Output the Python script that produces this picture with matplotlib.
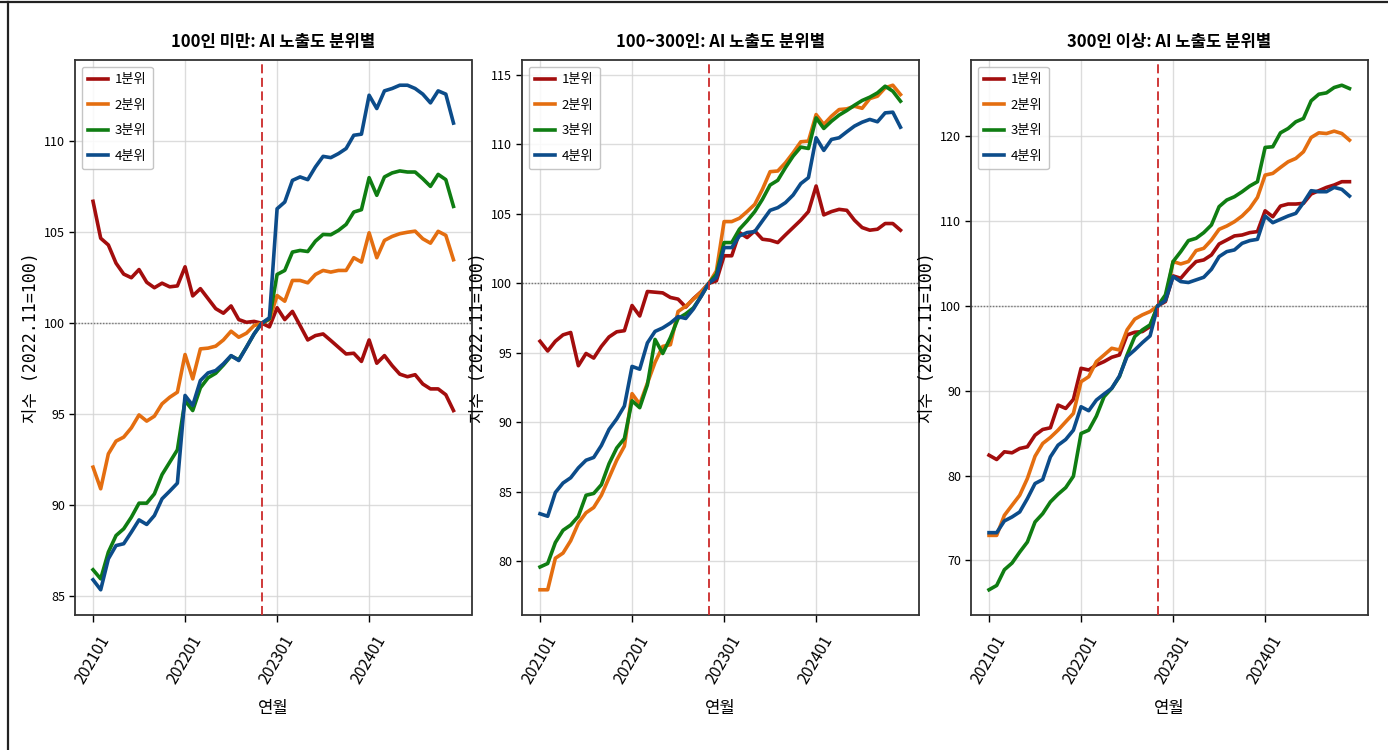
import numpy as np
import matplotlib
matplotlib.use("Agg")
import matplotlib.pyplot as plt
from matplotlib.lines import Line2D

plt.rcParams['font.family'] = ['Noto Sans CJK KR', 'DejaVu Sans']
plt.rcParams['axes.unicode_minus'] = False

# ---------------- data ----------------
months = [f"{y}{m:02d}" for y in (2021, 2022, 2023, 2024) for m in range(1, 13)]
tick_months = ["202101", "202201", "202301", "202401"]
base_month = "202211"

series_labels = ["1분위", "2분위", "3분위", "4분위"]
panel_titles = ["100인 미만: AI 노출도 분위별",
                "100~300인: AI 노출도 분위별",
                "300인 이상: AI 노출도 분위별"]

# 100인 미만
small_q1 = [106.7, 104.67, 104.3, 103.3, 102.7, 102.5, 102.95, 102.25, 101.95, 102.2, 102.0, 102.05,
            103.1, 101.5, 101.9, 101.35, 100.8, 100.55, 100.95, 100.2, 100.05, 100.1, 100.0, 99.8,
            100.85, 100.2, 100.65, 99.87, 99.08, 99.32, 99.41, 99.05, 98.68, 98.31, 98.35, 97.9,
            99.08, 97.8, 98.22, 97.67, 97.2, 97.06, 97.17, 96.66, 96.39, 96.39, 96.07, 95.2]
small_q2 = [92.09, 90.9, 92.82, 93.52, 93.74, 94.25, 94.96, 94.62, 94.89, 95.57, 95.93, 96.21,
            98.28, 96.94, 98.59, 98.63, 98.74, 99.08, 99.56, 99.23, 99.45, 99.87, 100.0, 100.2,
            101.52, 101.21, 102.35, 102.35, 102.22, 102.68, 102.9, 102.81, 102.9, 102.9, 103.6, 103.36,
            104.97, 103.6, 104.55, 104.77, 104.92, 105.0, 105.06, 104.64, 104.4, 105.05, 104.83, 103.49]
small_q3 = [86.45, 85.95, 87.42, 88.33, 88.7, 89.34, 90.11, 90.11, 90.62, 91.68, 92.36, 93.04,
            95.75, 95.2, 96.45, 97.0, 97.25, 97.7, 98.2, 97.99, 98.68, 99.41, 100.0, 100.24,
            102.68, 102.9, 103.91, 104.0, 103.94, 104.51, 104.88, 104.86, 105.1, 105.43, 106.11, 106.24,
            108.0, 107.03, 108.04, 108.26, 108.37, 108.31, 108.31, 107.94, 107.52, 108.18, 107.89, 106.42]
small_q4 = [85.9, 85.35, 87.05, 87.78, 87.88, 88.52, 89.19, 88.94, 89.43, 90.35, 90.77, 91.21,
            96.03, 95.48, 96.85, 97.27, 97.4, 97.77, 98.22, 97.95, 98.68, 99.41, 100.0, 100.3,
            106.29, 106.66, 107.85, 108.04, 107.89, 108.59, 109.17, 109.1, 109.32, 109.6, 110.33, 110.39,
            112.53, 111.8, 112.77, 112.9, 113.08, 113.08, 112.9, 112.59, 112.11, 112.77, 112.59, 111.0]

# 100~300인
mid_q1 = [95.84, 95.14, 95.84, 96.3, 96.47, 94.08, 94.96, 94.63, 95.47, 96.15, 96.52, 96.6,
          98.41, 97.66, 99.42, 99.37, 99.32, 98.99, 98.87, 98.3, 98.9, 99.4, 100.0, 100.19,
          101.99, 101.99, 103.66, 103.3, 103.78, 103.18, 103.11, 102.94, 103.49, 104.02, 104.55, 105.17,
          107.01, 104.93, 105.17, 105.33, 105.26, 104.55, 104.02, 103.83, 103.9, 104.31, 104.31, 103.83]
mid_q2 = [77.96, 77.96, 80.23, 80.6, 81.49, 82.75, 83.5, 83.88, 84.76, 86.02, 87.28, 88.29,
          92.07, 91.31, 92.82, 94.33, 95.47, 95.59, 97.98, 98.36, 98.87, 99.37, 100.0, 100.9,
          104.45, 104.45, 104.69, 105.17, 105.69, 106.77, 108.04, 108.09, 108.68, 109.4, 110.19, 110.24,
          112.15, 111.44, 112.03, 112.51, 112.56, 112.75, 112.6, 113.3, 113.47, 114.07, 114.26, 113.59]
mid_q3 = [79.6, 79.85, 81.36, 82.24, 82.62, 83.25, 84.76, 84.89, 85.52, 87.03, 88.16, 88.84,
          91.56, 91.06, 92.7, 95.97, 94.96, 96.1, 97.48, 97.81, 98.24, 99.07, 100.0, 100.67,
          102.94, 102.94, 103.9, 104.5, 105.17, 106.05, 107.08, 107.42, 108.33, 109.16, 109.81, 109.71,
          111.91, 111.15, 111.67, 112.11, 112.44, 112.82, 113.16, 113.4, 113.71, 114.19, 113.83, 113.11]
mid_q4 = [83.43, 83.25, 84.96, 85.64, 86.02, 86.73, 87.28, 87.48, 88.34, 89.5, 90.25, 91.18,
          94.03, 93.83, 95.72, 96.55, 96.8, 97.15, 97.61, 97.48, 98.16, 99.07, 100.0, 100.43,
          102.58, 102.58, 103.42, 103.66, 103.73, 104.5, 105.26, 105.45, 105.81, 106.36, 107.18, 107.61,
          110.48, 109.57, 110.36, 110.48, 110.91, 111.32, 111.6, 111.8, 111.63, 112.27, 112.32, 111.24]

# 300인 이상
large_q1 = [82.4, 81.89, 82.8, 82.68, 83.19, 83.39, 84.76, 85.43, 85.63, 88.31, 87.91, 88.98,
            92.64, 92.44, 93.03, 93.43, 93.94, 94.21, 96.57, 96.89, 96.97, 97.56, 100.0, 100.5,
            103.53, 103.25, 104.31, 105.22, 105.41, 106.0, 107.29, 107.76, 108.24, 108.35, 108.63, 108.75,
            111.2, 110.5, 111.76, 112.0, 112.0, 112.08, 113.18, 113.57, 113.96, 114.24, 114.63, 114.63]
large_q2 = [72.95, 72.95, 75.31, 76.5, 77.68, 79.65, 82.28, 83.78, 84.49, 85.35, 86.34, 87.32,
            91.06, 91.65, 93.43, 94.21, 95.0, 94.8, 97.17, 98.43, 98.94, 99.33, 100.0, 100.7,
            105.22, 104.94, 105.22, 106.51, 106.78, 107.76, 109.02, 109.41, 109.92, 110.59, 111.49, 112.78,
            115.41, 115.61, 116.31, 116.98, 117.37, 118.16, 119.84, 120.39, 120.31, 120.59, 120.31, 119.53]
large_q3 = [66.54, 67.05, 68.9, 69.69, 70.98, 72.17, 74.53, 75.51, 76.89, 77.8, 78.58, 79.92,
            84.96, 85.35, 87.01, 89.29, 90.28, 91.65, 94.21, 96.38, 97.17, 97.76, 100.0, 101.29,
            105.22, 106.39, 107.69, 107.96, 108.63, 109.53, 111.69, 112.47, 112.86, 113.45, 114.12, 114.63,
            118.67, 118.75, 120.39, 120.9, 121.69, 122.08, 124.16, 124.94, 125.1, 125.73, 126.0, 125.61]
large_q4 = [73.27, 73.27, 74.65, 75.12, 75.71, 77.28, 79.06, 79.53, 82.2, 83.58, 84.25, 85.35,
            88.11, 87.64, 88.9, 89.61, 90.28, 91.73, 94.02, 94.8, 95.67, 96.46, 100.0, 100.63,
            103.45, 102.86, 102.75, 103.06, 103.37, 104.31, 105.8, 106.39, 106.59, 107.37, 107.69, 107.84,
            110.59, 109.8, 110.2, 110.59, 110.9, 112.16, 113.57, 113.45, 113.45, 113.96, 113.73, 112.94]

panels = [
    [small_q1, small_q2, small_q3, small_q4],
    [mid_q1, mid_q2, mid_q3, mid_q4],
    [large_q1, large_q2, large_q3, large_q4],
]

colors = ["#a30d0d", "#e46e10", "#0f7d12", "#0c4c8a"]

# ---------------- figure ----------------
W, H = 1388, 750
fig = plt.figure(figsize=(W / 100, H / 100), dpi=100)

lefts = [75, 522, 971]
ax_w = 396.5
top_px, bot_px = 60, 615

x = np.arange(len(months))
tick_pos = [months.index(m) for m in tick_months]
base_pos = months.index(base_month)

for k, (series, title) in enumerate(zip(panels, panel_titles)):
    ax = fig.add_axes([lefts[k] / W, 1 - bot_px / H, ax_w / W, (bot_px - top_px) / H])
    for vals, lab, col in zip(series, series_labels, colors):
        ax.plot(x, vals, color=col, lw=2.6, label=lab, zorder=3)
    ax.axvline(base_pos, color="#cc2a2a", lw=1.3, ls=(0, (5, 2.5)), zorder=4)
    ax.axhline(100, color="#777777", lw=1.0, ls=(0, (1, 1.2)), zorder=2)
    ax.set_xticks(tick_pos)
    ax.set_xticklabels(tick_months, rotation=60, fontsize=11.5)
    ax.tick_params(axis="y", labelsize=9, length=4, width=1, pad=3)
    ax.tick_params(axis="x", length=5, width=1, pad=8)
    ax.grid(True, color="#d4d4d4", lw=1.0, alpha=0.8, zorder=0)
    ax.set_axisbelow(True)
    for sp in ax.spines.values():
        sp.set_color("#333333")
        sp.set_linewidth(1.3)
    ax.set_title(title, fontsize=12, fontweight="bold", pad=9)
    ax.set_xlabel("연월", fontsize=12, labelpad=9)
    ax.set_ylabel("지수 (2022.11=100)", fontsize=12,
                  family=["DejaVu Sans Mono", "Noto Sans CJK KR"])
    ax.yaxis.set_label_coords(-0.088, 0.5)
    ax.legend(loc="upper left", fontsize=9.5, handlelength=1.5, labelspacing=0.95,
              borderpad=0.5, handletextpad=0.5, framealpha=0.85, edgecolor="#bbbbbb")

# outer frame lines (top and left)
fig.add_artist(Line2D([0, 1], [1 - 2 / H, 1 - 2 / H], transform=fig.transFigure,
                      color="#222222", lw=1.6))
fig.add_artist(Line2D([8 / W, 8 / W], [0, 1 - 2 / H], transform=fig.transFigure,
                      color="#222222", lw=1.6))

fig.savefig("out.png", dpi=100, facecolor="white")
